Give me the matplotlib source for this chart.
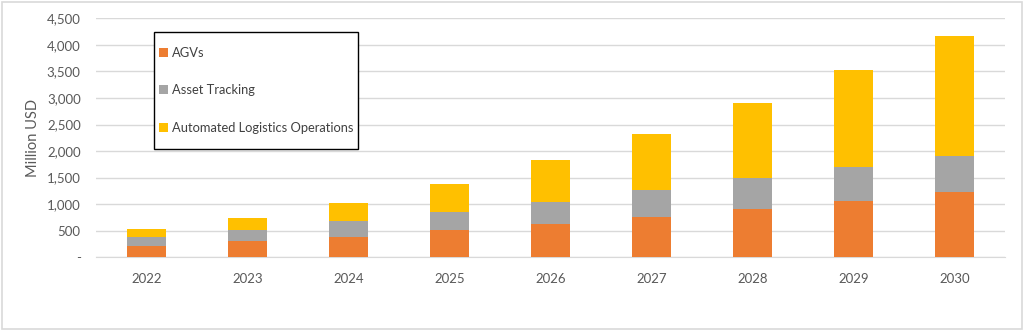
import matplotlib
matplotlib.use("Agg")
import matplotlib.pyplot as plt
from matplotlib.patches import Patch, Rectangle
import numpy as np

years = ["2022", "2023", "2024", "2025", "2026", "2027", "2028", "2029", "2030"]
agvs = [210, 300, 390, 510, 625, 760, 910, 1055, 1235]
asset_tracking = [180, 210, 290, 340, 415, 500, 580, 650, 670]
automated_logistics = [150, 235, 350, 530, 785, 1070, 1420, 1820, 2265]
series_names = ["AGVs", "Asset Tracking", "Automated Logistics Operations"]
colors = ["#ED7D31", "#A5A5A5", "#FFC000"]
yticks = [0, 500, 1000, 1500, 2000, 2500, 3000, 3500, 4000, 4500]
ytick_labels = ["-", "500", "1,000", "1,500", "2,000", "2,500", "3,000", "3,500", "4,000", "4,500"]

plt.rcParams['font.family'] = ['Lato', 'DejaVu Sans']
W, H = 1024, 331
fig = plt.figure(figsize=(W / 100, H / 100), dpi=100)
fig.patch.set_facecolor("white")
# outer border
fig.add_artist(Rectangle((2 / W, 2 / H), 1020 / W, 327 / H, transform=fig.transFigure,
                         fill=False, edgecolor="#D9D9D9", linewidth=1.2))

ax = fig.add_axes([96 / W, 1 - 257.3 / H, (1005 - 96) / W, (257.3 - 18.3) / H])
x = np.arange(len(years))
bottom = np.zeros(len(years))
handles = []
for vals, name, c in zip([agvs, asset_tracking, automated_logistics], series_names, colors):
    ax.bar(x, vals, width=0.39, bottom=bottom, color=c, zorder=3, linewidth=0)
    bottom += np.array(vals)
    handles.append(Patch(facecolor=c, edgecolor="none", label=name))

ax.set_xlim(-0.5, len(years) - 0.5)
ax.set_ylim(0, 4500)
ax.set_yticks(yticks)
ax.set_yticklabels(ytick_labels)
ax.set_xticks(x)
ax.set_xticklabels(years)
ax.grid(axis="y", color="#D9D9D9", linewidth=1, zorder=0)
for s in ["top", "right", "left"]:
    ax.spines[s].set_visible(False)
ax.spines["bottom"].set_color("#D9D9D9")
ax.tick_params(axis="both", length=0, colors="#595959", labelsize=9.5)
ax.tick_params(axis="y", pad=11)
ax.tick_params(axis="x", pad=11)
ax.set_ylabel("Million USD", color="#595959", fontsize=10.5, labelpad=5)

# legend box frame
fig.add_artist(Rectangle((154 / W, 1 - 149 / H), (358 - 154) / W, (149 - 32) / H,
                         transform=fig.transFigure, facecolor="white",
                         edgecolor="black", linewidth=1.0, zorder=4))
leg = fig.legend(handles=handles, loc="center left",
                 bbox_to_anchor=(159 / W, 1 - 90.5 / H),
                 frameon=False, fontsize=9.3,
                 handlelength=0.7, handleheight=0.7, handletextpad=0.3,
                 labelspacing=2.0, borderpad=0.0, borderaxespad=0)
leg.set_zorder(5)
for t in leg.get_texts():
    t.set_color("#404040")

fig.savefig("out.png", dpi=100, facecolor="white")
